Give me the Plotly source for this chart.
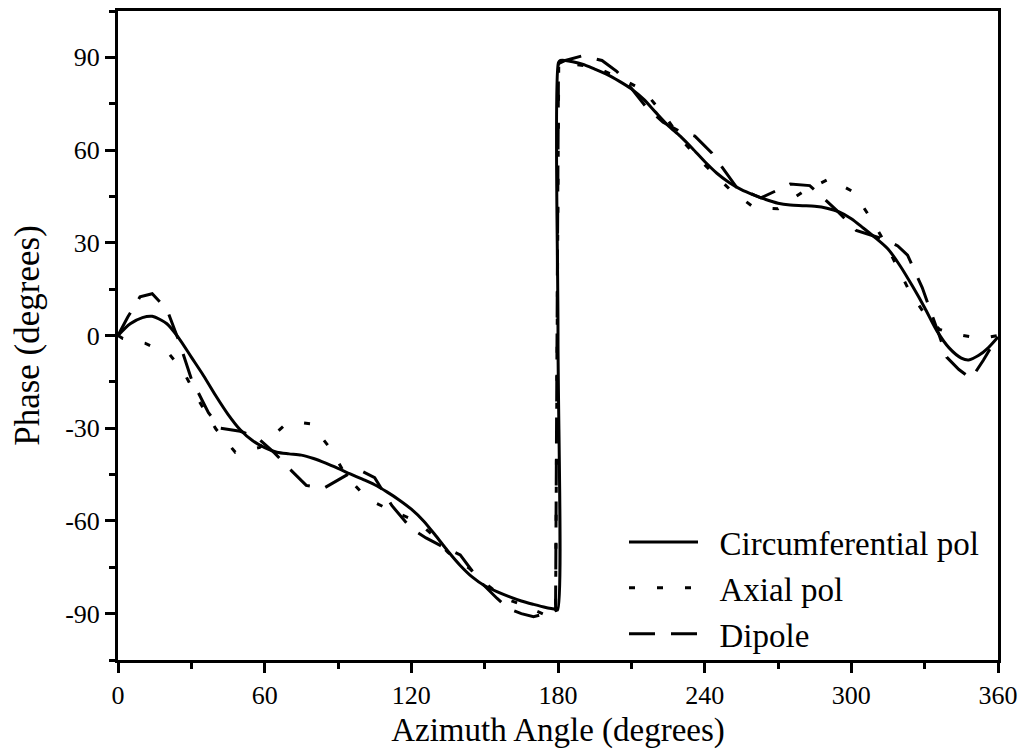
import plotly.graph_objects as go

# ---------------- data ----------------
circ_az = [0, 5, 10, 14, 20, 25, 30, 35, 40, 45, 50, 55, 60, 65, 70, 75, 80, 85, 90,
           95, 100, 105, 110, 115, 120, 125, 130, 135, 140, 145, 150, 155, 160, 165,
           170, 175, 179, 179.8, 180, 180.2, 181, 183, 186, 190, 195, 200, 205, 210, 215,
           220, 225, 230, 235, 240, 245, 250, 255, 260, 265, 270, 275, 280, 285, 290, 295,
           300, 305, 310, 315, 320, 325, 330, 335, 340, 345, 348, 352, 356, 360]
circ_phase = [0, 3.8, 5.8, 6.2, 3.8, -1, -7, -13, -19.5, -25.5, -30.5, -34, -36.3, -37.8,
              -38.3, -38.7, -39.8, -41.3, -43, -44.8, -46.5, -48.3, -50.6, -53.2, -56.2, -60,
              -64.8, -69.8, -74.4, -78.2, -81, -82.9, -84.5, -85.9, -87, -88, -88.6, -88.8, 0,
              88.3, 89, 89, 88.6, 87.8, 86.2, 84.5, 82.3, 79.8, 76.5, 72.2, 68, 64.5, 60.5,
              56.3, 52.5, 49.5, 47.2, 45.5, 44, 42.8, 42.2, 42, 41.8, 41.2, 40, 37.8, 34.7,
              31.5, 28, 22.5, 16, 9, 1.5, -4, -7.3, -7.9, -6.5, -4, -0.5]

axial_az = [0, 2, 11, 21, 27, 33, 40, 48, 58, 68, 73, 79, 87, 93, 102, 112, 122, 128,
            135, 144, 150, 158, 165, 175, 179, 180.3, 184, 194.5, 205, 215, 224, 232,
            239.5, 250, 260, 270, 280, 291, 301, 308, 314, 319, 324, 330, 336, 342, 353, 360]
axial_phase = [0, -1, -2.5, -6, -12, -21, -30.2, -37.8, -36.2, -29.1, -28, -28.6, -36.7,
               -45, -52.9, -56.7, -60, -64, -70.2, -75.5, -80, -85, -87, -90.5, -90, 88,
               88, 87, 83.5, 79.3, 70.7, 62, 55.6, 47.5, 41.5, 41, 46.4, 50.7, 46.4, 37.8,
               29.7, 22, 14, 7, 2, 0.5, -1, 0]

dipole_az = [0, 4, 9, 14, 20, 25, 30, 37, 42, 50, 57, 64, 70, 77, 84, 95, 100, 105, 112,
             120, 126, 132, 140, 148, 155, 160, 165, 170, 175, 179, 180.2, 183, 190, 198,
             204, 210, 216, 223, 230, 236, 243, 253, 263, 270, 275, 283, 290, 294, 302,
             308, 314, 319, 323, 329, 332, 336, 339, 344, 349, 354, 360]
dipole_phase = [0, 6, 12.5, 13.5, 8.5, -2, -14, -25, -30, -31, -33, -38, -43, -48.5, -49.5,
                -44.5, -44, -46, -55, -62.5, -65.5, -68, -71, -79.5, -85, -88.5, -90, -91,
                -90, -89, 88, 89, 90.5, 89, 85.5, 80, 74, 69, 66, 64.5, 59, 48, 44.5, 47,
                49, 48.5, 43.5, 40.5, 34, 32.5, 31, 29, 26, 15.5, 9, 0, -7, -11, -14, -8, 0]

series_names = ["Circumferential pol", "Axial pol", "Dipole"]

x_ticks = [0, 60, 120, 180, 240, 300, 360]
x_minor = [30, 90, 150, 210, 270, 330]
y_ticks = [-90, -60, -30, 0, 30, 60, 90]
y_minor = [-105, -75, -45, -15, 15, 45, 75, 105]

# ---------------- figure ----------------
FONT = "Liberation Serif"
pad = "\u00a0\u00a0"

fig = go.Figure()
fig.add_trace(go.Scatter(x=circ_az, y=circ_phase, mode="lines", name=pad + series_names[0],
                         line=dict(color="black", width=3, shape="spline", smoothing=0.8)))
fig.add_trace(go.Scatter(x=axial_az, y=axial_phase, mode="lines", name=pad + series_names[1],
                         line=dict(color="black", width=3, dash="6px,22px")))
fig.add_trace(go.Scatter(x=dipole_az, y=dipole_phase, mode="lines", name=pad + series_names[2],
                         line=dict(color="black", width=3, dash="26px,16px")))

axis_common = dict(
    showline=True, linecolor="black", linewidth=3, mirror=True,
    ticks="outside", ticklen=10, tickwidth=3, tickcolor="black",
    showgrid=False, zeroline=False, automargin=False,
    tickfont=dict(family=FONT, size=26, color="black"),
)

fig.update_xaxes(range=[0, 360], tickvals=x_ticks, ticktext=[str(v) for v in x_ticks],
                 minor=dict(tickvals=x_minor, ticks="outside",
                            ticklen=6, tickwidth=3, tickcolor="black"),
                 title=dict(text="Azimuth Angle (degrees)", standoff=9,
                            font=dict(family=FONT, size=33, color="black")),
                 **axis_common)
fig.update_yaxes(range=[-105, 105], tickvals=y_ticks, ticktext=[str(v) for v in y_ticks],
                 minor=dict(tickvals=y_minor, ticks="outside",
                            ticklen=6, tickwidth=3, tickcolor="black"),
                 title=dict(text="Phase (degrees)", standoff=15,
                            font=dict(family=FONT, size=35, color="black")),
                 **axis_common)

fig.update_layout(
    width=1028, height=749,
    margin=dict(l=118, r=30, t=11, b=89),
    paper_bgcolor="white", plot_bgcolor="white",
    showlegend=True,
    legend=dict(x=(624 - 118) / 880, y=(660 - 514) / 649, xanchor="left", yanchor="top",
                bgcolor="rgba(0,0,0,0)", itemwidth=69,
                font=dict(family=FONT, size=33, color="black")),
    font=dict(family=FONT, color="black"),
)

fig.write_html("out.html")
